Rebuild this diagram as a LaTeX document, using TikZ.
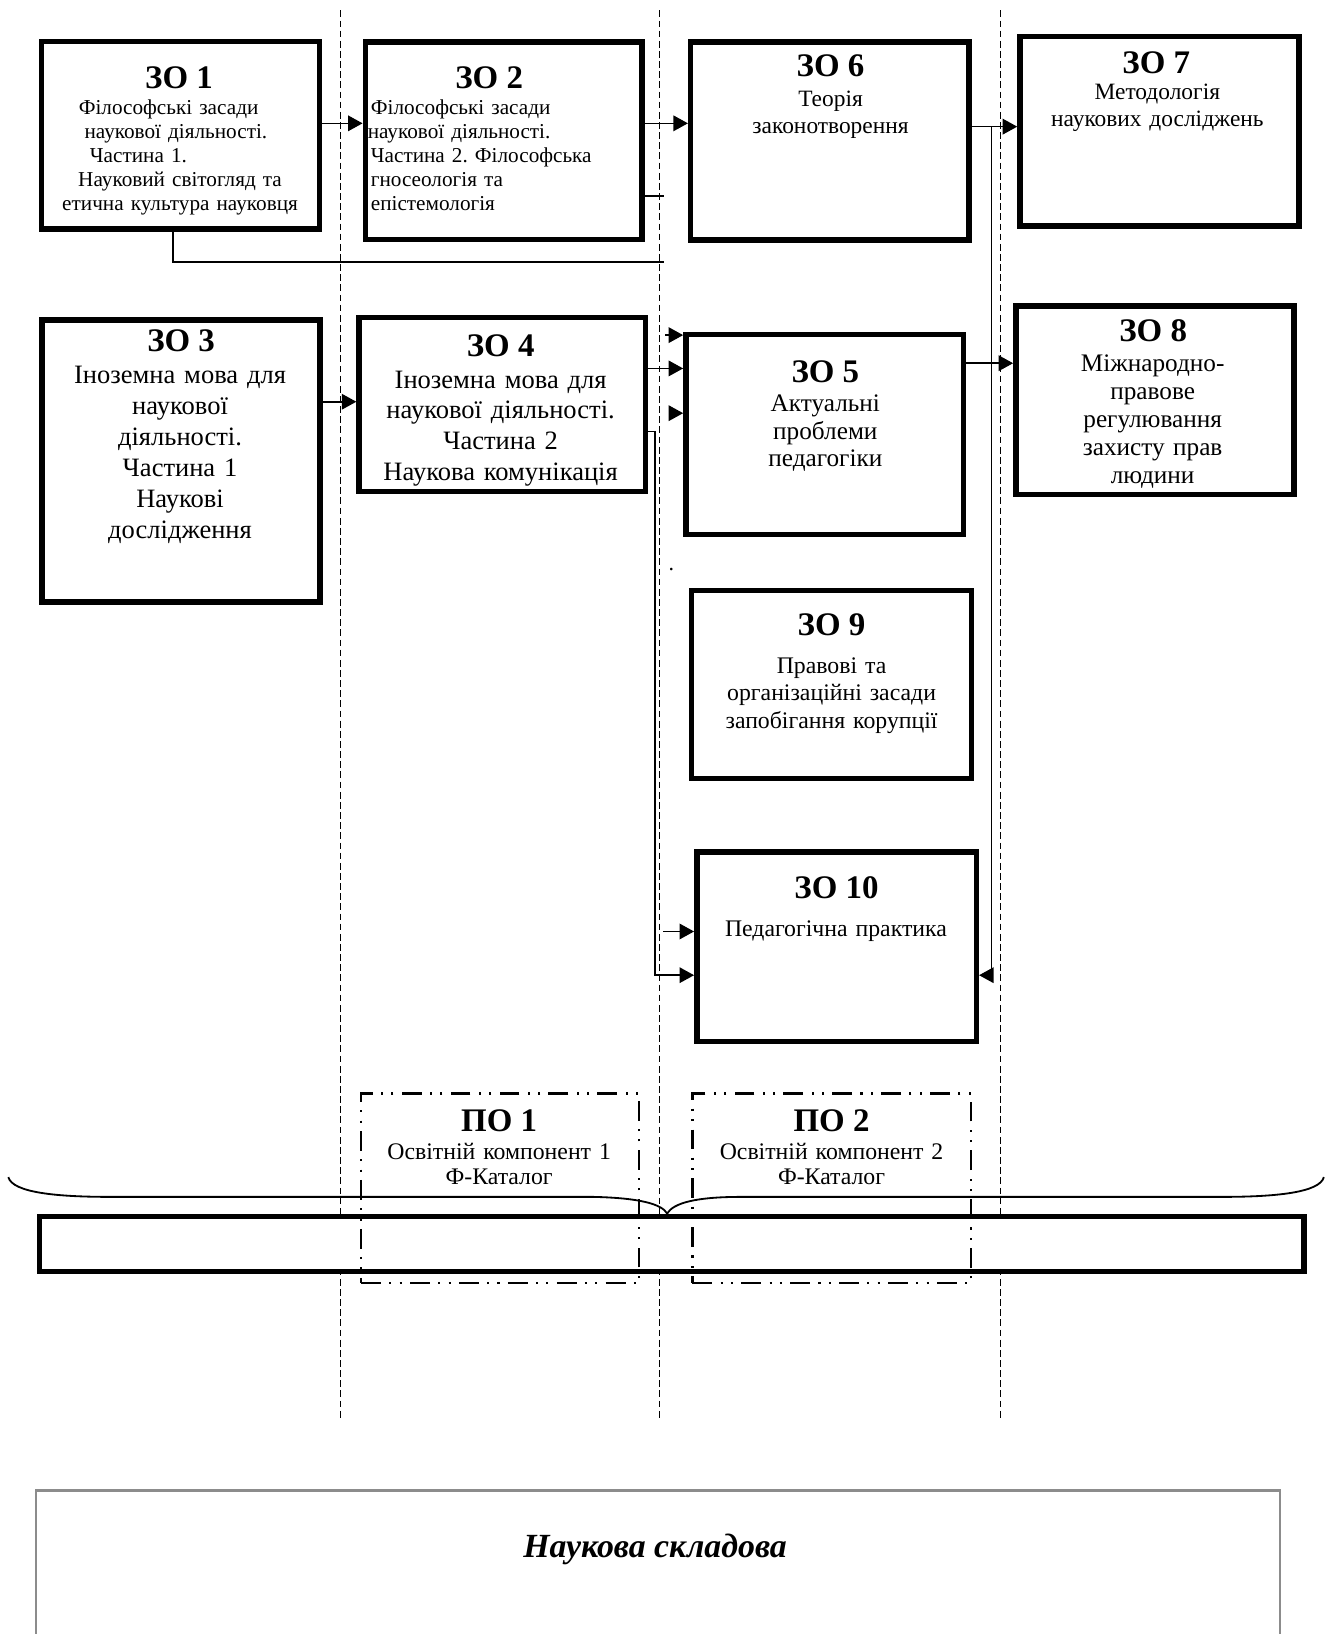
\documentclass[tikz,border=0pt]{standalone}
\usepackage{fontspec}
\setmainfont{Liberation Serif}
\usetikzlibrary{arrows.meta}
\frenchspacing

\begin{document}
\begin{tikzpicture}[x=0.2mm,y=-0.2mm,
    zo/.style={draw,line width=1.05mm,inner sep=0pt},
    po/.style={draw,line width=0.5mm,inner sep=0pt,dash pattern=on 3.8mm off 1.6mm on 0.4mm off 1.6mm on 0.4mm off 1.6mm},
    sz/.style 2 args={minimum width=#1*0.2mm,minimum height=#2*0.2mm},
    ttl/.style={anchor=base,inner sep=0pt,font=\fontsize{18}{20}\selectfont\bfseries},
    txt/.style={anchor=base,inner sep=0pt,text width=56mm,align=center},
    guide/.style={line width=0.2mm,dash pattern=on 1.3mm off 0.65mm},
    arr/.style={line width=0.3mm,-{Triangle[length=2.8mm,width=3mm]}},
    ln/.style={line width=0.3mm}]
    \useasboundingbox (0,0) rectangle (1280,1570);

    \foreach \gx in {327.5,633.5,961}
        \draw[guide] (\gx,10) -- (\gx,1364);

    \node[zo,sz={267}{180.3}] (zo1) at (173.5,129.9) {};
    \node[zo,sz={266}{189.8}] (zo2) at (484,135.3) {};
    \node[zo,sz={267.4}{190}] (zo6) at (797.3,135.4) {};
    \node[zo,sz={268}{181.8}] (zo7) at (1114,126.1) {};
    \node[zo,sz={267.2}{270.7}] (zo3) at (173.8,442.9) {};
    \node[zo,sz={275}{167.4}] (zo4) at (482.5,388.8) {};
    \node[zo,sz={266.6}{192.2}] (zo5) at (792.3,417.7) {};
    \node[zo,sz={267.3}{181}] (zo8) at (1109.7,384.5) {};
    \node[zo,sz={269.4}{181}] (zo9) at (798.9,657.7) {};
    \node[zo,sz={268.6}{182}] (zo10) at (803.8,909.6) {};

    \node[ttl] (zo1-ttl) at (172,85) {ЗО 1};
    \node[txt,font=\fontsize{11.6}{13}\selectfont] (zo1-txt) at (173,110.5) {Філософські засади\rule{4.4mm}{0pt}\\ наукової діяльності.\rule{1.6mm}{0pt}\\ Частина 1.\rule{16mm}{0pt}\\ Науковий світогляд та\\ етична культура науковця};
    \node[ttl] (zo2-ttl) at (470,85) {ЗО 2};
    \node[txt,align=left,anchor=base west,font=\fontsize{11.6}{13}\selectfont] (zo2-txt) at (356,110.5) {Філософські засади\\ \hspace*{-0.6mm}наукової діяльності.\\ Частина 2. Філософська\\ гносеологія та\\ епістемологія};
    \node[ttl] (zo6-ttl) at (798,73.7) {ЗО 6};
    \node[txt,font=\fontsize{12.8}{14.7}\selectfont] (zo6-txt) at (798,102) {Теорія\\ законотворення};
    \node[ttl] (zo7-ttl) at (1111,70.5) {ЗО 7};
    \node[txt,font=\fontsize{12.8}{14.6}\selectfont] (zo7-txt) at (1112,96) {Методологія\\ наукових досліджень};
    \node[ttl] (zo3-ttl) at (174,338) {ЗО 3};
    \node[txt,font=\fontsize{14.5}{17}\selectfont] (zo3-txt) at (173,368.4) {Іноземна мова для\\ наукової\\ діяльності.\\ Частина 1\\ Наукові\\ дослідження};
    \node[ttl] (zo4-ttl) at (481,342.8) {ЗО 4};
    \node[txt,font=\fontsize{14.5}{16.8}\selectfont] (zo4-txt) at (481,373) {Іноземна мова для\\ наукової діяльності.\\ Частина 2\\ Наукова комунікація};
    \node[ttl] (zo5-ttl) at (793,367.8) {ЗО 5};
    \node[txt,font=\fontsize{13.8}{15}\selectfont] (zo5-txt) at (793,395.6) {Актуальні\\ проблеми\\ педагогіки};
    \node[ttl] (zo8-ttl) at (1108,328.3) {ЗО 8};
    \node[txt,font=\fontsize{13.8}{15.3}\selectfont] (zo8-txt) at (1107.5,357.2) {Міжнародно-\\ правове\\ регулювання\\ захисту прав\\ людини};
    \node[ttl] (zo9-ttl) at (799,610.2) {ЗО 9};
    \node[txt,font=\fontsize{13}{15.1}\selectfont] (zo9-txt) at (799,647) {Правові та\\ організаційні засади\\ запобігання корупції};
    \node[ttl] (zo10-ttl) at (803.7,863.3) {ЗО 10};
    \node[txt,font=\fontsize{13}{15}\selectfont] (zo10-txt) at (803.2,900) {Педагогічна практика};
    \node[anchor=base,inner sep=0pt,font=\fontsize{12}{14}\selectfont] (dot) at (645,548) {.};

    \coordinate (h12) at (0,118.5);
    \coordinate (h34) at (0,386);
    \coordinate (h45) at (0,354);
    \coordinate (h58) at (0,349);
    \coordinate (h10) at (0,937);
    \coordinate (x1) at (166,0);
    \coordinate (j7) at (952.5,121.7);
    \coordinate (j4) at (629.5,414.8);
    \coordinate (e1) at (637.6,251.5);
    \coordinate (e2) at (637.6,188.4);
    \coordinate (s5a) at (639,322);
    \coordinate (s5b) at (644,397);
    \coordinate (s10) at (637.5,895);

    \draw[arr] (zo1.east |- h12) -- (zo2.west |- h12);
    \draw[arr] (zo2.east |- h12) -- (zo6.west |- h12);
    \draw[arr] (zo6.east |- j7) -- (zo7.west |- j7);
    \draw[arr] (j7) |- (zo10.east |- h10);
    \draw[arr] (zo3.east |- h34) -- (zo4.west |- h34);
    \draw[arr] (zo4.east |- h45) -- (zo5.west |- h45);
    \draw[arr] (s5a) -- (zo5.west |- s5a);
    \draw[arr] (s5b) -- (zo5.west |- s5b);
    \draw[arr] (zo5.east |- h58) -- (zo8.west |- h58);
    \draw[arr] (zo4.east |- j4) -- (j4) |- (zo10.west |- h10);
    \draw[arr] (s10) -- (zo10.west |- s10);
    \draw[ln] (zo1.south -| x1) |- (e1);
    \draw[ln] (zo2.east |- e2) -- (e2);

    \node[draw,fill=white,line width=1mm,inner sep=0pt,sz={1215.4}{52.4}] (bar) at (645.3,1195.4) {};
    \node[po,sz={267}{182}] (po1) at (480.5,1141.7) {};
    \node[po,sz={267.7}{182}] (po2) at (799.2,1141.7) {};
    \node[ttl] (po1-ttl) at (479.6,1087.5) {ПО 1};
    \node[txt,font=\fontsize{13}{13.7}\selectfont] (po1-txt) at (479.6,1113.8) {Освітній компонент 1\\ Ф-Каталог};
    \node[ttl] (po2-ttl) at (799,1087.5) {ПО 2};
    \node[txt,font=\fontsize{13}{13.7}\selectfont] (po2-txt) at (799,1113.8) {Освітній компонент 2\\ Ф-Каталог};

    \draw[line width=0.35mm] (8,1131) .. controls (12,1146) and (55,1150) .. (106,1150) -- (570,1150)
        .. controls (615,1151) and (636,1157) .. (641,1166)
        .. controls (647,1156) and (668,1150) .. (712,1150) -- (1174,1150)
        .. controls (1225,1150) and (1268,1146) .. (1272,1131);

    \node[draw=black!45,line width=0.45mm,inner sep=0pt,sz={1195.7}{300}] (sci) at (632.2,1582) {};
    \node[anchor=base,inner sep=0pt,font=\fontsize{18.5}{20}\selectfont\bfseries\itshape] (sci-txt) at (629.4,1496.6) {Наукова складова};
\end{tikzpicture}
\end{document}
